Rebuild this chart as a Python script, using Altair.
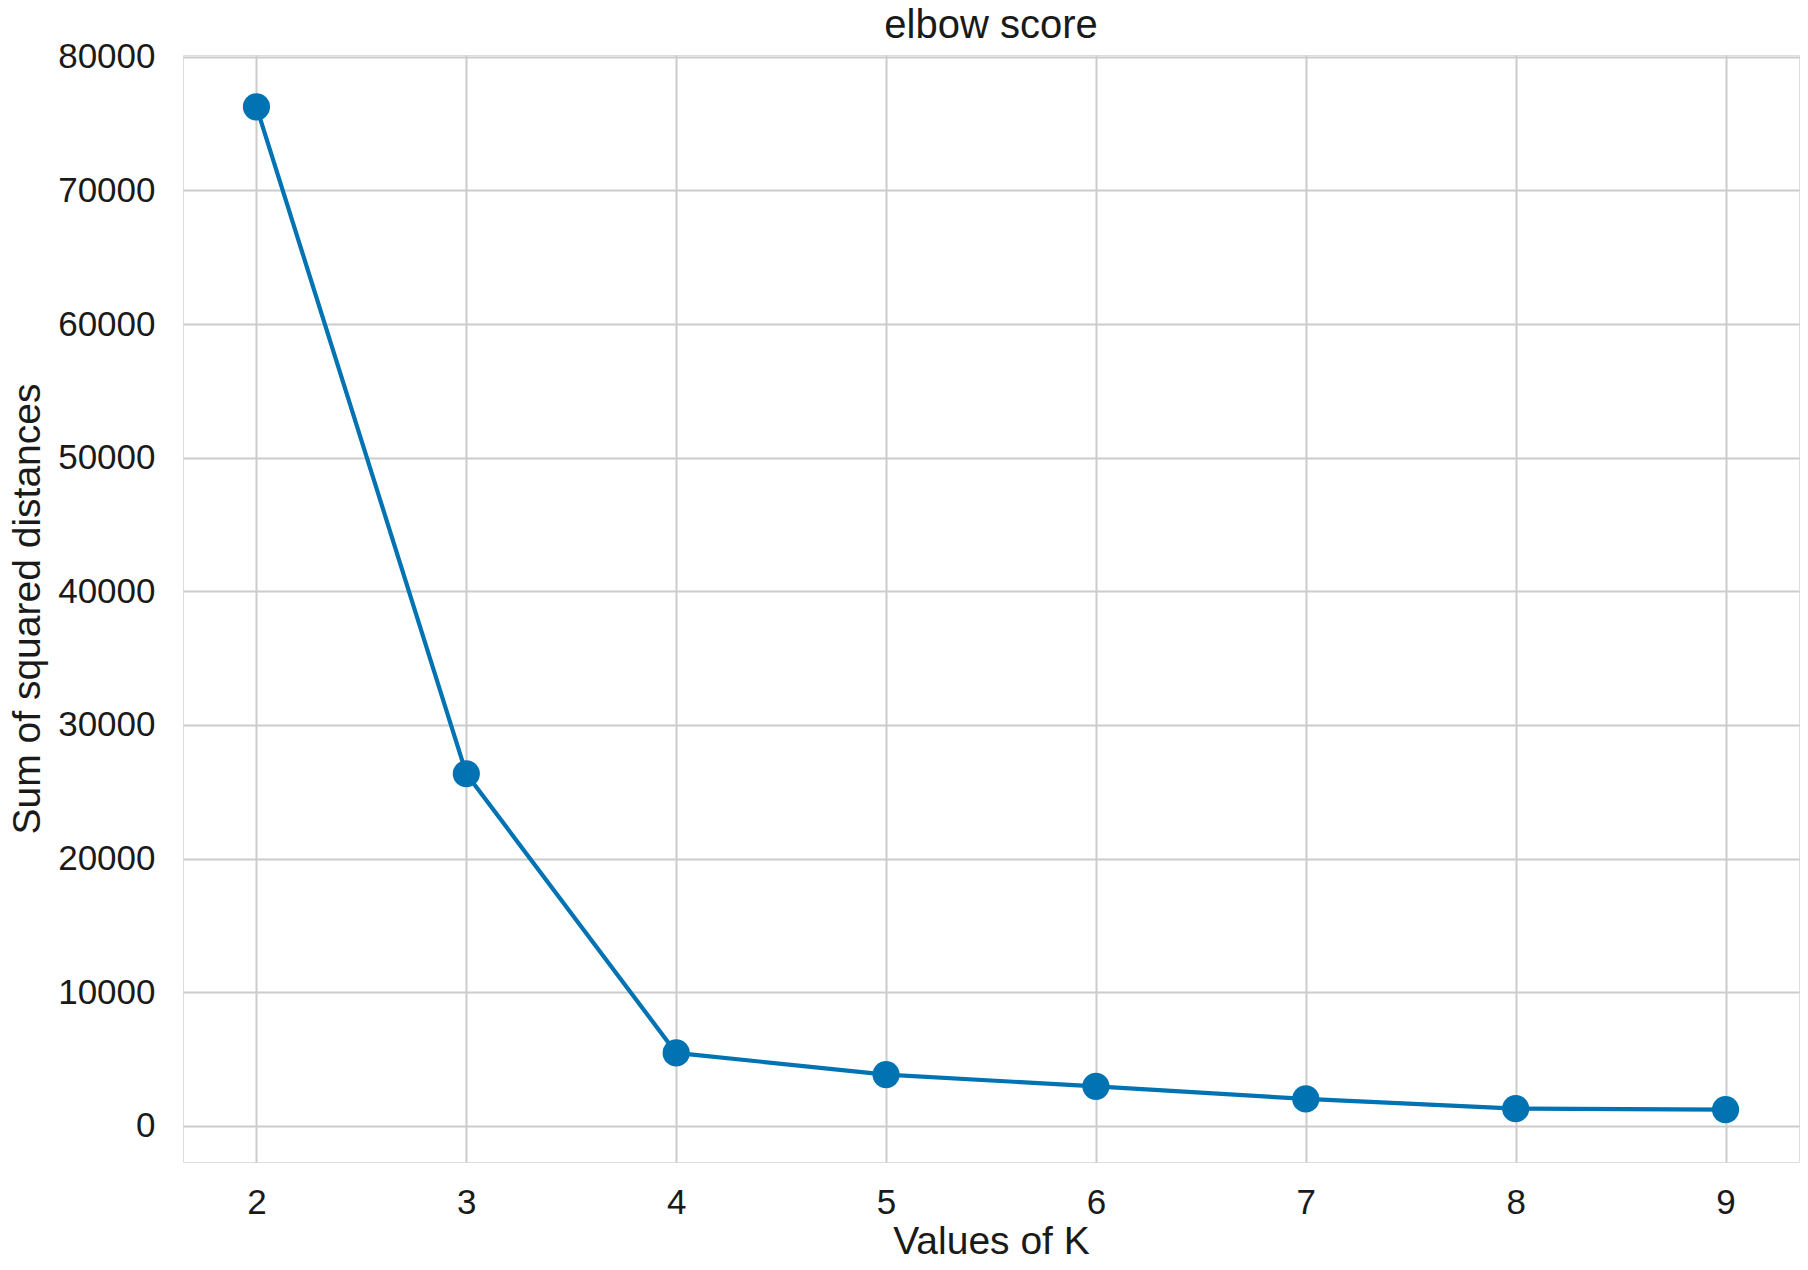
import altair as alt
import pandas as pd

k_values = [2, 3, 4, 5, 6, 7, 8, 9]
sse = [76250, 26350, 5460, 3840, 2960, 2020, 1290, 1220]
chart_title = ["elbow score"]

df = pd.DataFrame({"k": k_values, "sse": sse})
title_df = pd.DataFrame({"t": chart_title})

FONT = "Liberation Sans"
BLUE = "#0173B2"
GRID = "#cccccc"
TEXT = "#1a1a1a"
W, H = 1616, 1107

x = alt.X(
    "k:Q",
    scale=alt.Scale(domain=[1.65, 9.35], nice=False, zero=False),
    axis=alt.Axis(
        values=k_values,
        title="Values of K",
        format="d",
        grid=True,
        gridColor=GRID,
        gridWidth=2,
        domain=False,
        ticks=False,
        labelPadding=23,
        labelFontSize=35,
        labelFont=FONT,
        labelColor=TEXT,
        titleFont=FONT,
        titleFontSize=39,
        titleFontWeight="normal",
        titleColor=TEXT,
        titlePadding=2,
    ),
)
y = alt.Y(
    "sse:Q",
    scale=alt.Scale(domain=[-2700, 80130], nice=False, zero=False),
    axis=alt.Axis(
        values=[0, 10000, 20000, 30000, 40000, 50000, 60000, 70000, 80000],
        title="Sum of squared distances",
        format="d",
        grid=True,
        gridColor=GRID,
        gridWidth=2,
        domain=False,
        ticks=False,
        labelPadding=28,
        labelFontSize=35,
        labelFont=FONT,
        labelColor=TEXT,
        titleFont=FONT,
        titleFontSize=39,
        titleFontWeight="normal",
        titleColor=TEXT,
        titlePadding=10,
    ),
)

base = alt.Chart(df).encode(x=x, y=y)
line = base.mark_line(color=BLUE, strokeWidth=4.2)
points = base.mark_point(filled=True, color=BLUE, opacity=1, size=740, shape="circle")

title_text = (
    alt.Chart(title_df)
    .mark_text(font=FONT, fontSize=40, color=TEXT, align="center", baseline="alphabetic")
    .encode(text="t:N", x=alt.value(W / 2), y=alt.value(-17))
)

chart = (
    alt.layer(line, points, title_text)
    .properties(
        width=W,
        height=H,
        autosize=alt.AutoSizeParams(type="none"),
        padding={"left": 175, "top": 47, "right": 1, "bottom": 100},
    )
    .configure_view(stroke=GRID, strokeWidth=3)
    .configure(background="white")
)

chart.save("out.html", embed_options={"renderer": "svg", "actions": False})
